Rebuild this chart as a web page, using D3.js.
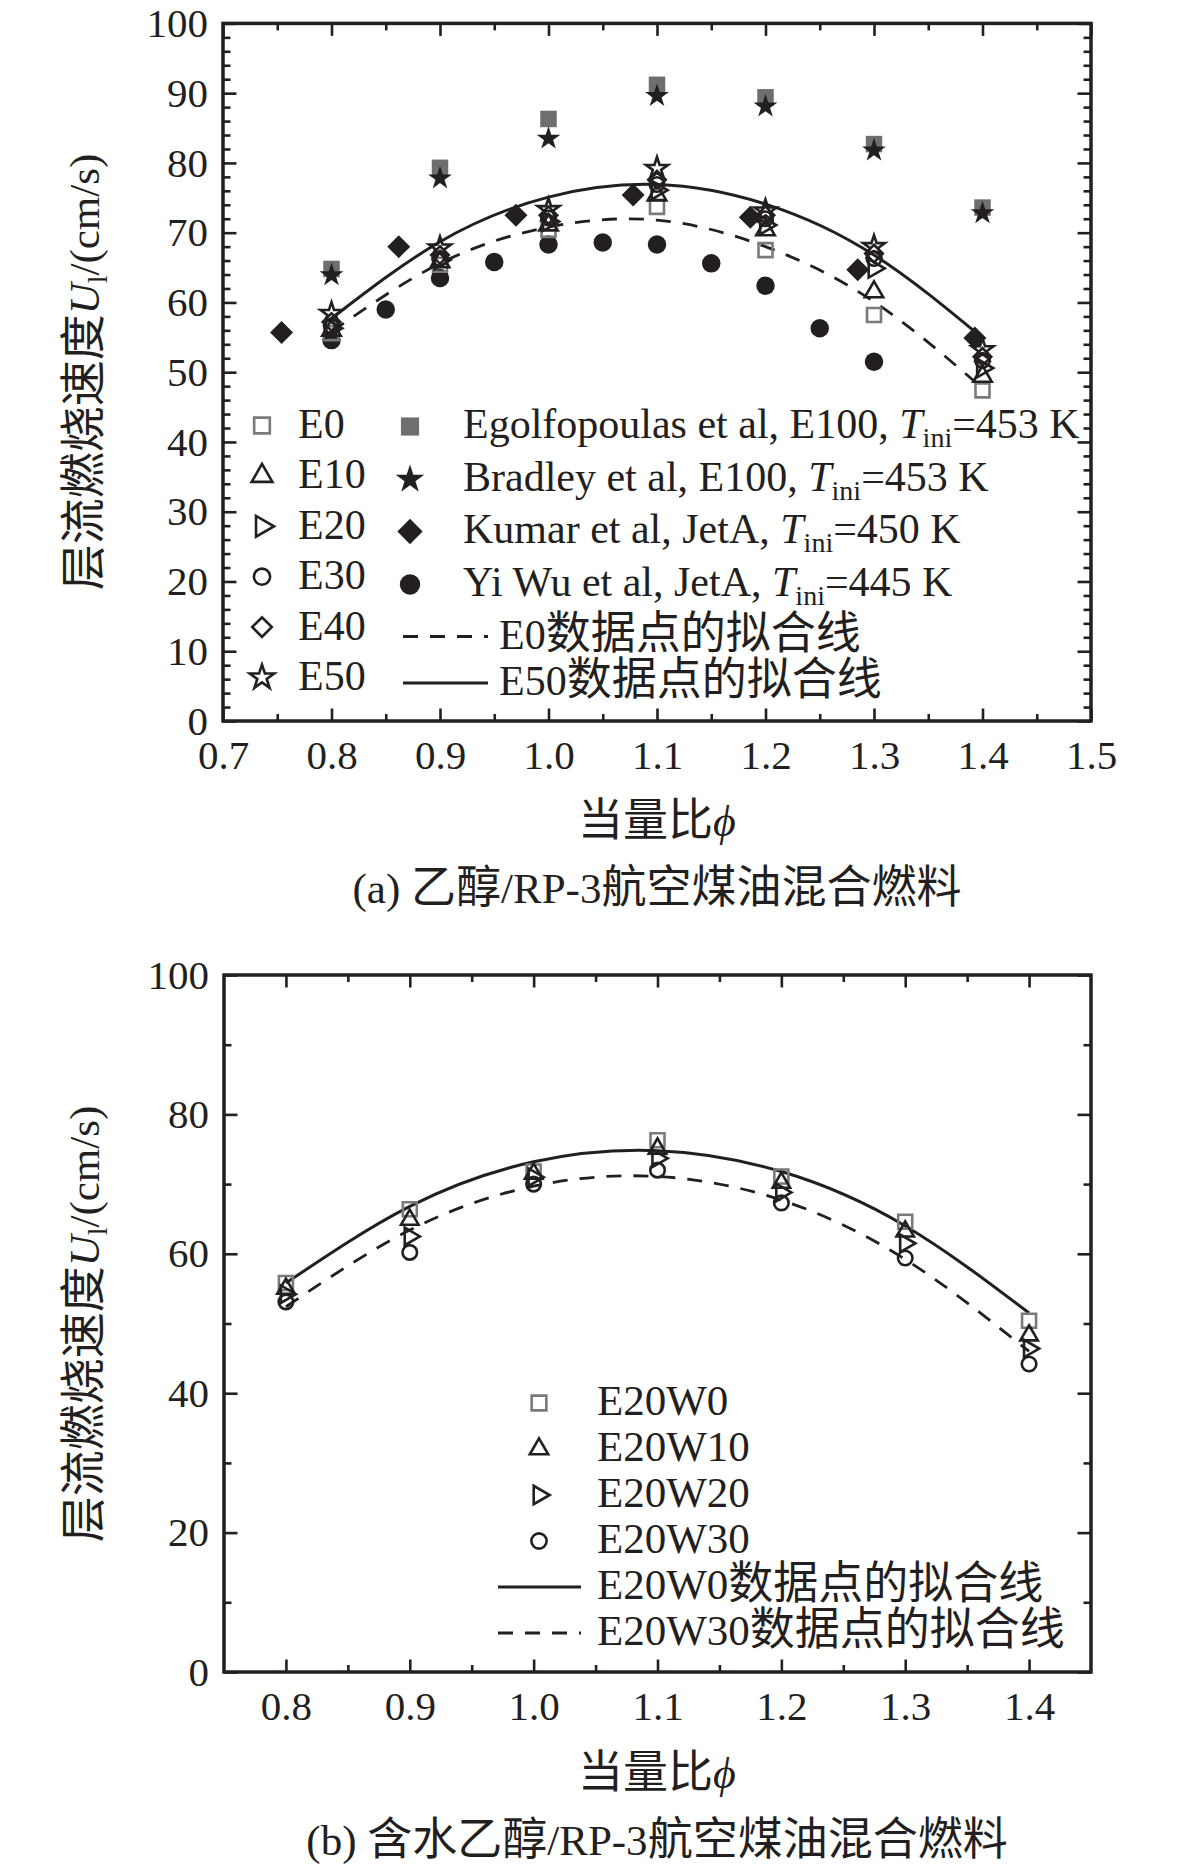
<!DOCTYPE html>
<html><head><meta charset="utf-8">
<script src="https://cdn.jsdelivr.net/npm/d3@7"></script>
<style>
body{margin:0;background:#fff}
svg{display:block}
text{font-family:"Liberation Serif","Noto Sans CJK SC",serif;fill:#231f20}
</style>
</head><body>
<svg id="c" width="1181" height="1870"></svg>
<script>
// ---------------- DATA ----------------
// Panel (a)
const phiA = [0.8, 0.9, 1.0, 1.1, 1.2, 1.3, 1.4];
const E0  = [55.6, 65.4, 70.4, 73.7, 67.5, 58.2, 47.4];
const E10 = [56.0, 65.8, 71.1, 75.4, 70.4, 61.5, 49.4];
const E20 = [56.3, 66.1, 71.6, 76.1, 71.1, 64.9, 50.6];
const E30 = [56.6, 66.3, 72.1, 76.9, 72.0, 66.3, 51.7];
const E40 = [57.2, 66.8, 72.5, 77.6, 72.5, 67.0, 52.2];
const E50 = [58.4, 67.8, 73.3, 79.2, 73.1, 68.0, 53.2];
const egolf   = [64.8, 79.3, 86.3, 91.2, 89.4, 82.7, 73.6];
const bradley = [63.9, 77.8, 83.5, 89.6, 88.1, 81.8, 72.8];
const phiKumar = [0.754, 0.862, 0.970, 1.078, 1.186, 1.285, 1.393];
const kumar    = [55.7, 68.0, 72.5, 75.4, 72.2, 64.7, 54.9];
const phiYiWu = [0.80, 0.85, 0.90, 0.95, 1.00, 1.05, 1.10, 1.15, 1.20, 1.25, 1.30];
const yiwu    = [54.6, 59.0, 63.5, 65.8, 68.3, 68.6, 68.3, 65.6, 62.4, 56.3, 51.5];
const fitE0  = [55.8, 65.6, 70.8, 71.8, 68.0, 60.1, 47.7];
const fitE50 = [57.7, 68.7, 75.1, 76.9, 74.1, 66.8, 54.9];
const xTicksA = [0.7, 0.8, 0.9, 1.0, 1.1, 1.2, 1.3, 1.4, 1.5];
const yTicksA = [0, 10, 20, 30, 40, 50, 60, 70, 80, 90, 100];

// Panel (b)
const phiB = [0.8, 0.9, 1.0, 1.1, 1.2, 1.3, 1.4];
const W0  = [55.8, 66.4, 71.8, 76.3, 71.1, 64.6, 50.4];
const W10 = [55.0, 64.9, 71.5, 75.1, 70.2, 63.2, 48.3];
const W20 = [54.2, 62.5, 71.0, 73.7, 68.8, 61.5, 46.4];
const W30 = [53.1, 60.2, 70.0, 72.0, 67.3, 59.4, 44.2];
const fitW0  = [55.8, 66.8, 73.2, 74.8, 71.8, 64.0, 51.5];
const fitW30 = [52.4, 63.4, 69.7, 71.1, 67.7, 59.2, 46.0];
const xTicksB = [0.8, 0.9, 1.0, 1.1, 1.2, 1.3, 1.4];
const yTicksB = [0, 20, 40, 60, 80, 100];

// texts
const xTitle = "当量比";
const xTitleSym = "\u03D5";
const captionA = ["(a) ", "乙醇", "/RP-3", "航空煤油混合燃料"];
const captionB = ["(b) ", "含水乙醇", "/RP-3", "航空煤油混合燃料"];
const legendA1 = ["E0", "E10", "E20", "E30", "E40", "E50"];
const legendA2 = [
  ["Egolfopoulas et al, E100, ", "=453 K"],
  ["Bradley et al, E100, ", "=453 K"],
  ["Kumar et al, JetA, ", "=450 K"],
  ["Yi Wu et al, JetA, ", "=445 K"]
];
const legendA3 = [["E0", "数据点的拟合线"], ["E50", "数据点的拟合线"]];
const legendB1 = ["E20W0", "E20W10", "E20W20", "E20W30"];
const legendB2 = [["E20W0", "数据点的拟合线"], ["E20W30", "数据点的拟合线"]];

// ---------------- DRAW ----------------
const INK = "#231f20", GRAY = "#7a7a7a", GFILL = "#6d6e70";
const CJK = 45;
const svg = d3.select("#c");

const symPath = {
  square: s => d3.symbol(d3.symbolSquare, s * s)(),
  tri: s => d3.symbol(d3.symbolTriangle, Math.sqrt(3) / 4 * s * s)(),
  circle: d => d3.symbol(d3.symbolCircle, Math.PI * d * d / 4)(),
  diamond: w => d3.symbol(d3.symbolSquare, w * w / 2)(),
  star: r => d3.symbol(d3.symbolStar, r * r / 0.8908130915292852)()
};
function marker(g, spec, x, y, scale) {
  const k = scale || 1;
  g.append("path")
    .attr("d", symPath[spec.type](spec.size * k))
    .attr("transform", `translate(${x},${y}) rotate(${spec.rot || 0})`)
    .attr("fill", spec.fill || "none")
    .attr("stroke", spec.stroke || "none")
    .attr("stroke-width", spec.sw || 0)
    .attr("stroke-linejoin", "miter");
}

const specE = [
  {type: "square", size: 14, stroke: GRAY, sw: 2.6},
  {type: "tri", size: 18.5, stroke: INK, sw: 2.6},
  {type: "tri", size: 18.5, rot: 90, stroke: INK, sw: 2.6},
  {type: "circle", size: 14.5, stroke: INK, sw: 2.6},
  {type: "diamond", size: 17.5, rot: 45, stroke: INK, sw: 2.6},
  {type: "star", size: 11.5, stroke: INK, sw: 2.6}
];
const specLit = [
  {type: "square", size: 16.5, fill: GFILL},
  {type: "star", size: 12.5, fill: INK},
  {type: "diamond", size: 23, rot: 45, fill: INK},
  {type: "circle", size: 18.5, fill: INK}
];
const specW = [
  {type: "square", size: 14, stroke: GRAY, sw: 2.6},
  {type: "tri", size: 17.5, stroke: INK, sw: 2.6},
  {type: "tri", size: 17.5, rot: 90, stroke: INK, sw: 2.6},
  {type: "circle", size: 14.5, stroke: INK, sw: 2.6}
];

function frame(x, y, xMinor, yMinor, xTicks, yTicks) {
  const g = svg.append("g");
  const [x0, x1] = x.range(), [y0, y1] = y.range();
  const fmtX = d3.format(".1f");
  g.append("g").attr("transform", `translate(0,${y0})`)
    .call(d3.axisBottom(x).tickValues(xTicks).tickFormat(fmtX).tickSize(-12.5).tickSizeOuter(0).tickPadding(19));
  g.append("g").attr("transform", `translate(0,${y0})`)
    .call(d3.axisBottom(x).tickValues(xMinor).tickFormat("").tickSize(-7).tickSizeOuter(0));
  g.append("g").attr("transform", `translate(0,${y1})`)
    .call(d3.axisTop(x).tickValues(xTicks).tickFormat("").tickSize(-12.5).tickSizeOuter(0));
  g.append("g").attr("transform", `translate(0,${y1})`)
    .call(d3.axisTop(x).tickValues(xMinor).tickFormat("").tickSize(-7).tickSizeOuter(0));
  g.append("g").attr("transform", `translate(${x0},0)`)
    .call(d3.axisLeft(y).tickValues(yTicks).tickFormat(d3.format("d")).tickSize(-13.5).tickSizeOuter(0).tickPadding(15));
  g.append("g").attr("transform", `translate(${x0},0)`)
    .call(d3.axisLeft(y).tickValues(yMinor).tickFormat("").tickSize(-7.5).tickSizeOuter(0));
  g.append("g").attr("transform", `translate(${x1},0)`)
    .call(d3.axisRight(y).tickValues(yTicks).tickFormat("").tickSize(-13.5).tickSizeOuter(0));
  g.append("g").attr("transform", `translate(${x1},0)`)
    .call(d3.axisRight(y).tickValues(yMinor).tickFormat("").tickSize(-7.5).tickSizeOuter(0));
  g.selectAll(".domain").remove();
  g.selectAll(".tick line").attr("stroke", INK).attr("stroke-width", 2.6);
  g.selectAll(".tick text").attr("font-size", 41).attr("fill", INK)
    .attr("font-family", '"Liberation Serif",serif');
  g.append("rect").attr("x", x0).attr("y", y1).attr("width", x1 - x0).attr("height", y0 - y1)
    .attr("fill", "none").attr("stroke", INK).attr("stroke-width", 3.5);
}

function yTitle(cx, cy) {
  const t = svg.append("text").attr("transform", `translate(${cx},${cy}) rotate(-90)`)
    .attr("text-anchor", "middle").attr("font-size", 43);
  t.append("tspan").attr("font-size", CJK + 1).text("层流燃烧速度");
  t.append("tspan").attr("font-style", "italic").text("U");
  t.append("tspan").attr("font-size", 28).attr("dy", 8).text("l");
  t.append("tspan").attr("dy", -8).text("/(cm/s)");
}
function xTitleText(cx, by) {
  const t = svg.append("text").attr("x", cx).attr("y", by).attr("text-anchor", "middle").attr("font-size", 44);
  t.append("tspan").attr("font-size", CJK).text(xTitle);
  t.append("tspan").attr("font-style", "italic").text(xTitleSym);
}
function caption(cx, by, parts) {
  const t = svg.append("text").attr("x", cx).attr("y", by).attr("text-anchor", "middle").attr("font-size", 43);
  parts.forEach((p, i) => t.append("tspan").attr("font-size", i % 2 ? CJK : 43).text(p));
}

// ======= Panel (a) =======
const xA = d3.scaleLinear().domain([0.7, 1.5]).range([223, 1091]);
const yA = d3.scaleLinear().domain([0, 100]).range([721, 23.4]);
const xMinorA = d3.range(0.75, 1.5, 0.1).map(v => +v.toFixed(2));
const yMinorA = d3.range(0, 101, 2).filter(v => v % 10 !== 0);

const gA = svg.append("g");
const lineA = d3.line().x(d => xA(d[0])).y(d => yA(d[1])).curve(d3.curveNatural);
[[phiA, egolf], [phiA, bradley], [phiKumar, kumar], [phiYiWu, yiwu]].forEach((s, i) => {
  s[0].forEach((p, j) => marker(gA, specLit[i], xA(p), yA(s[1][j])));
});
gA.append("path").datum(d3.zip(phiA, fitE0)).attr("d", lineA).attr("fill", "none")
  .attr("stroke", INK).attr("stroke-width", 2.8).attr("stroke-dasharray", "15,12");
gA.append("path").datum(d3.zip(phiA, fitE50)).attr("d", lineA).attr("fill", "none")
  .attr("stroke", INK).attr("stroke-width", 3);
[E0, E10, E20, E30, E40, E50].forEach((s, i) => {
  s.forEach((v, j) => marker(gA, specE[i], xA(phiA[j]), yA(v)));
});
frame(xA, yA, xMinorA, yMinorA, xTicksA, yTicksA);

// legend (a)
const lgA = svg.append("g").attr("font-size", 42);
legendA1.forEach((s, i) => {
  const by = 438 + i * 50.4;
  marker(lgA, specE[i], 262, by - 12.5, 1.12);
  lgA.append("text").attr("x", 298).attr("y", by).text(s);
});
const col2Base = [438, 491, 543, 596];
legendA2.forEach((s, i) => {
  const by = col2Base[i];
  marker(lgA, specLit[i], 410, by - 11.5, i === 1 ? 1.2 : 1.1);
  const t = lgA.append("text").attr("x", 463).attr("y", by);
  t.append("tspan").text(s[0]);
  t.append("tspan").attr("font-style", "italic").text("T");
  t.append("tspan").attr("font-size", 28).attr("dy", 9).text("ini");
  t.append("tspan").attr("dy", -9).text(s[1]);
});
[[636.5, "15,12"], [683, null]].forEach((d, i) => {
  const l = lgA.append("line").attr("x1", 403).attr("x2", 488).attr("y1", d[0]).attr("y2", d[0])
    .attr("stroke", INK).attr("stroke-width", 3);
  if (d[1]) l.attr("stroke-dasharray", d[1]);
  const t = lgA.append("text").attr("x", 499).attr("y", d[0] + 12);
  t.append("tspan").text(legendA3[i][0]);
  t.append("tspan").attr("font-size", CJK).text(legendA3[i][1]);
});

yTitle(99, 372);
xTitleText(657, 836);
caption(657, 903, captionA);

// ======= Panel (b) =======
const xB = d3.scaleLinear().domain([0.75, 1.45]).range([224, 1091]);
const yB = d3.scaleLinear().domain([0, 100]).range([1672, 975]);
const xMinorB = d3.range(0.85, 1.45, 0.1).map(v => +v.toFixed(2));
const yMinorB = [10, 30, 50, 70, 90];
const gB = svg.append("g");
const lineB = d3.line().x(d => xB(d[0])).y(d => yB(d[1])).curve(d3.curveNatural);
gB.append("path").datum(d3.zip(phiB, fitW0)).attr("d", lineB).attr("fill", "none")
  .attr("stroke", INK).attr("stroke-width", 3);
gB.append("path").datum(d3.zip(phiB, fitW30)).attr("d", lineB).attr("fill", "none")
  .attr("stroke", INK).attr("stroke-width", 2.8).attr("stroke-dasharray", "15,12");
[W0, W10, W20, W30].forEach((s, i) => {
  s.forEach((v, j) => marker(gB, specW[i], xB(phiB[j]), yB(v)));
});
frame(xB, yB, xMinorB, yMinorB, xTicksB, yTicksB);

const lgB = svg.append("g").attr("font-size", 43);
legendB1.forEach((s, i) => {
  const by = 1415 + i * 46;
  marker(lgB, specW[i], 539, by - 12, 1.05);
  lgB.append("text").attr("x", 597).attr("y", by).text(s);
});
[[1587, null], [1633, "15,12"]].forEach((d, i) => {
  const l = lgB.append("line").attr("x1", 498).attr("x2", 581).attr("y1", d[0]).attr("y2", d[0])
    .attr("stroke", INK).attr("stroke-width", 3);
  if (d[1]) l.attr("stroke-dasharray", d[1]);
  const t = lgB.append("text").attr("x", 597).attr("y", d[0] + 11.5);
  t.append("tspan").text(legendB2[i][0]);
  t.append("tspan").attr("font-size", CJK).text(legendB2[i][1]);
});

yTitle(99, 1324);
xTitleText(657, 1788);
caption(657, 1855, captionB);
</script>
</body></html>
